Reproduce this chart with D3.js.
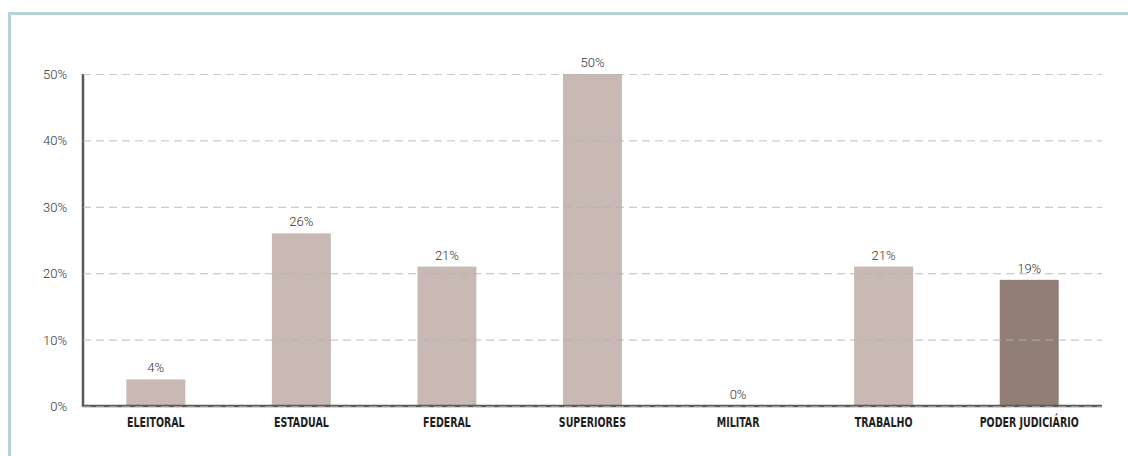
<!DOCTYPE html>
<html><head><meta charset="utf-8">
<script src="https://cdn.jsdelivr.net/npm/d3@7"></script>
<style>
html,body{margin:0;padding:0;background:#fff;}
svg{display:block;}
</style></head>
<body><svg id="c" width="1128" height="456"></svg>
<script>
const categories = ["ELEITORAL","ESTADUAL","FEDERAL","SUPERIORES","MILITAR","TRABALHO","PODER JUDICIÁRIO"];
const values = [4, 26, 21, 50, 0, 21, 19];
const valueLabels = ["4%","26%","21%","50%","0%","21%","19%"];
const highlight = [false,false,false,false,false,false,true];
const yTicks = [0,10,20,30,40,50];
const yTickLabels = ["0%","10%","20%","30%","40%","50%"];

const svg = d3.select("#c");
const W = 1128, H = 456;
const m = {left:83, right:26, top:74, bottom:50};
const lightFont = "Roboto, 'Open Sans', sans-serif";

// frame (top and left borders)
svg.append("rect").attr("x",8).attr("y",12).attr("width",W-8).attr("height",3).attr("fill","#b6d3d9");
svg.append("rect").attr("x",8).attr("y",12).attr("width",3).attr("height",H-12).attr("fill","#b6d3d9");

const x = d3.scaleBand().domain(categories).range([m.left, W-m.right]).paddingInner(0.595).paddingOuter(0.2975);
const y = d3.scaleLinear().domain([0,50]).range([H-m.bottom, m.top]);

// bars
svg.append("g").selectAll("rect").data(categories).join("rect")
  .attr("x", d=>x(d)).attr("width", x.bandwidth())
  .attr("y", (d,i)=>y(values[i])).attr("height",(d,i)=>y(0)-y(values[i]))
  .attr("fill",(d,i)=>highlight[i]?"#917f77":"#c8b9b5");

// axis lines
svg.append("line").attr("x1",m.left).attr("x2",m.left).attr("y1",y(50)).attr("y2",y(0)+1)
  .attr("stroke","#5a5a5a").attr("stroke-width",2.5);
svg.append("line").attr("x1",m.left).attr("x2",W-m.right).attr("y1",y(0)).attr("y2",y(0))
  .attr("stroke","#5a5a5a").attr("stroke-width",2.5);

// gridlines (on top)
const yAxis = d3.axisLeft(y).tickValues(yTicks).tickSize(-(W-m.right-m.left)).tickFormat((d,i)=>yTickLabels[i]).tickPadding(16);
const gy = svg.append("g").attr("transform",`translate(${m.left},0)`).call(yAxis);
gy.select(".domain").remove();
gy.selectAll(".tick line").attr("stroke","#b4b4b4").attr("stroke-opacity",0.7).attr("stroke-width",1.2).attr("stroke-dasharray","8,5");
gy.selectAll(".tick text").attr("font-family",lightFont).attr("font-weight",300)
  .attr("font-size",13).attr("fill","#333").attr("dy","0.35em");

// value labels
svg.append("g").selectAll("text").data(categories).join("text")
  .attr("x", d=>x(d)+x.bandwidth()/2).attr("y",(d,i)=>y(values[i])-7)
  .attr("text-anchor","middle").attr("font-family",lightFont).attr("font-weight",300)
  .attr("font-size",13).attr("fill","#333").text((d,i)=>valueLabels[i]);

// category labels
const xAxis = d3.axisBottom(x).tickSize(0).tickPadding(0);
const gx = svg.append("g").attr("transform",`translate(0,${y(0)})`).call(xAxis);
gx.select(".domain").remove();
gx.selectAll(".tick text").attr("y",21).attr("dy",0)
  .attr("transform","scale(0.78,1)")
  .attr("font-family","'DejaVu Sans Condensed','DejaVu Sans',sans-serif").style("font-stretch","condensed")
  .attr("font-weight",700).attr("font-size",13.5).attr("fill","#1e1e1e");
</script></body></html>
